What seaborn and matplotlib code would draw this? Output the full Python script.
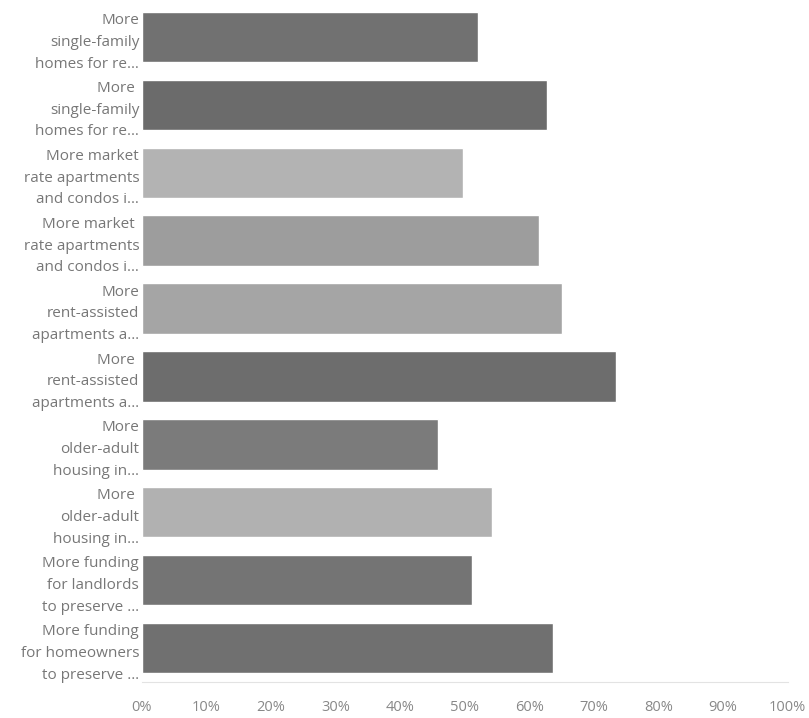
import numpy as np
import pandas as pd
import seaborn as sns
import matplotlib.pyplot as plt
from matplotlib.ticker import PercentFormatter

sns.set_style('white')
plt.rcParams['font.family'] = ['Open Sans', 'DejaVu Sans']

labels = [
    'More\nsingle-family\nhomes for re…',
    'More \nsingle-family\nhomes for re…',
    'More market\nrate apartments\nand condos i…',
    'More market \nrate apartments\nand condos i…',
    'More\nrent-assisted\napartments a…',
    'More \nrent-assisted\napartments a…',
    'More\nolder-adult\nhousing in…',
    'More \nolder-adult\nhousing in…',
    'More funding\nfor landlords\nto preserve …',
    'More funding\nfor homeowners\nto preserve …',
]
shares = [0.52, 0.628, 0.497, 0.615, 0.65, 0.735, 0.458, 0.542, 0.511, 0.637]
bar_colors = ['#717171', '#6b6b6b', '#b3b3b3', '#9d9d9d', '#a5a5a5',
              '#6d6d6d', '#7b7b7b', '#b1b1b1', '#747474', '#707070']

df = pd.DataFrame({'label': labels, 'share': shares})

fig = plt.figure(figsize=(8.09, 7.18), dpi=100)
ax = fig.add_axes([0.1755, 0.05, 0.798, 0.946])

sns.barplot(data=df, y='label', x='share', hue='label', palette=bar_colors,
            legend=False, width=0.74, saturation=1, ax=ax)

ax.set_xlim(0, 1)
ax.set_xticks(np.arange(0, 1.01, 0.1))
ax.xaxis.set_major_formatter(PercentFormatter(1, decimals=0))
ax.set_xlabel('')
ax.set_ylabel('')
ax.tick_params(axis='x', colors='#888888', labelsize=10.5, pad=13, length=0)
ax.tick_params(axis='y', colors='#777777', labelsize=11, length=0, pad=2)
for t in ax.get_yticklabels():
    t.set_linespacing(1.62)

sns.despine(ax=ax, left=True)
ax.spines['bottom'].set_color('#e3e3e3')

fig.savefig('out.png', dpi=100)
